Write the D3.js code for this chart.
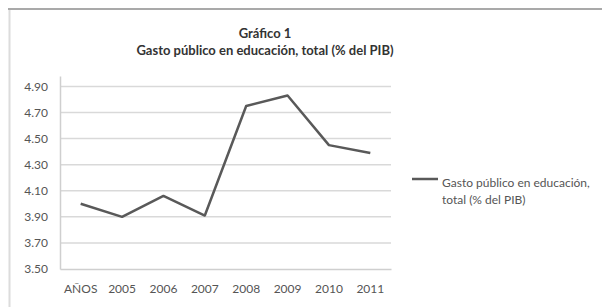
<!DOCTYPE html>
<html>
<head>
<meta charset="utf-8">
<script src="https://cdn.jsdelivr.net/npm/d3@7"></script>
<style>
	body { margin: 0; background: #fff; }
	svg { display: block; font-family: Lato, 'Open Sans', sans-serif; }
</style>
</head>
<body>
<script>
const w = 602;
const h = 307;
const margin = { top: 76, bottom: 38, left: 60, right: 211 };

// data
const years = ['AÑOS', '2005', '2006', '2007', '2008', '2009', '2010', '2011'];
const gasto = [4.0, 3.9, 4.06, 3.91, 4.75, 4.83, 4.45, 4.39];
const yTicks = [3.5, 3.7, 3.9, 4.1, 4.3, 4.5, 4.7, 4.9];
const titleLines = ['Gráfico 1', 'Gasto público en educación, total (% del PIB)'];
const legendLines = ['Gasto público en educación,', 'total (% del PIB)'];

const data = years.map(function(d, i) {
	return { year: d, value: gasto[i] };
});

let svg = d3.select('body').append('svg').attr('width', w).attr('height', h);

// frame
svg.append('line').attr('x1', 8).attr('x2', w).attr('y1', 9).attr('y2', 9)
	.attr('stroke', '#a9a9a9').attr('stroke-width', 2);
svg.append('line').attr('x1', 9.5).attr('x2', 9.5).attr('y1', 10).attr('y2', h)
	.attr('stroke', '#dcdcdc').attr('stroke-width', 2);

let x = d3.scaleBand()
	.domain(years)
	.range([ margin.left, w - margin.right ]);

let y = d3.scaleLinear()
	.domain([ 3.5, 4.98 ])
	.range([ h - margin.bottom, margin.top ]);

// gridlines
svg.append('g')
	.selectAll('line')
	.data(yTicks.slice(1))
	.enter()
	.append('line')
	.attr('x1', margin.left)
	.attr('x2', w - margin.right)
	.attr('y1', function(d) { return y(d); })
	.attr('y2', function(d) { return y(d); })
	.attr('stroke', '#d9d9d9')
	.attr('stroke-width', 1.5);

// y axis
const yAxis = d3.axisLeft(y).tickValues(yTicks).tickFormat(d3.format('.2f')).tickSize(0).tickPadding(12);
let gy = svg.append('g').attr('transform', 'translate(' + margin.left + ',0)').call(yAxis);
gy.select('.domain').attr('stroke', '#cfcfcf').attr('stroke-width', 1.5);
gy.selectAll('text').attr('fill', '#555').style('font-size', '12px').style('font-family', 'Lato, sans-serif');

// x axis
const xAxis = d3.axisBottom(x).tickSize(0).tickPadding(15);
let gx = svg.append('g').attr('transform', 'translate(0,' + (h - margin.bottom) + ')').call(xAxis);
gx.select('.domain').attr('stroke', '#cfcfcf').attr('stroke-width', 1.5);
gx.selectAll('text').attr('fill', '#555').style('font-size', '12px').style('font-family', 'Lato, sans-serif');

// line
const line = d3.line()
	.x(function(d) { return x(d.year) + x.bandwidth() / 2; })
	.y(function(d) { return y(d.value); });

svg.append('path')
	.datum(data)
	.attr('d', line)
	.attr('fill', 'none')
	.attr('stroke', '#595959')
	.attr('stroke-width', 2.5)
	.attr('stroke-linejoin', 'round');

// title
svg.selectAll('.title')
	.data(titleLines)
	.enter()
	.append('text')
	.attr('class', 'title')
	.attr('x', 265)
	.attr('y', function(d, i) { return 38 + i * 17; })
	.attr('text-anchor', 'middle')
	.attr('fill', '#333')
	.style('font-size', '13px')
	.style('font-weight', 'bold')
	.text(function(d) { return d; });

// legend
svg.append('line')
	.attr('x1', 412).attr('x2', 438).attr('y1', 179).attr('y2', 179)
	.attr('stroke', '#595959').attr('stroke-width', 2.5);
svg.selectAll('.legend')
	.data(legendLines)
	.enter()
	.append('text')
	.attr('class', 'legend')
	.attr('x', 442)
	.attr('y', function(d, i) { return 187 + i * 17; })
	.attr('fill', '#555')
	.style('font-size', '12px')
	.text(function(d) { return d; });
</script>
</body>
</html>
